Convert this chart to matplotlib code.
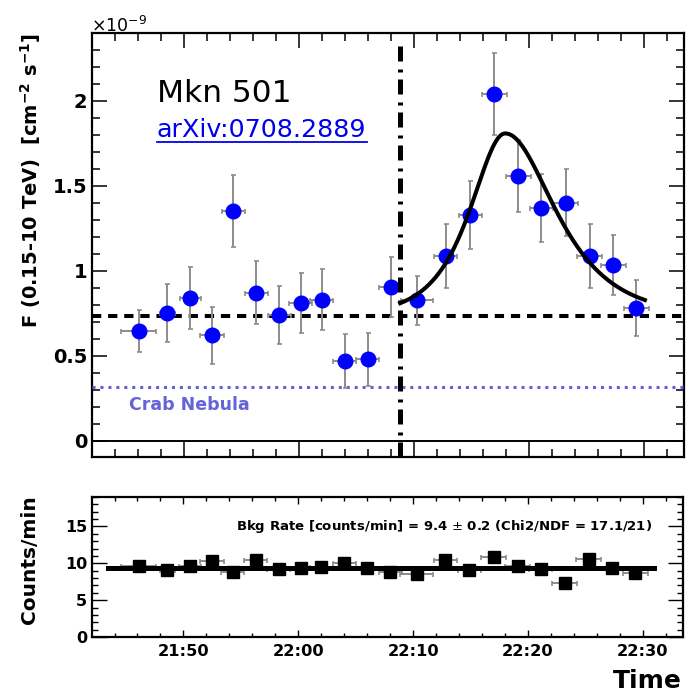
import numpy as np
import matplotlib
matplotlib.use('Agg')
import matplotlib.pyplot as plt
from matplotlib.ticker import MultipleLocator, FixedLocator, NullFormatter
from matplotlib.lines import Line2D

# time bins, minutes after 21:00
t_min = [106.1, 108.6, 110.6, 112.5, 114.3, 116.3, 118.3, 120.2, 122.0, 124.0, 126.0,
         128.0, 130.3, 132.8, 134.9, 137.0, 139.1, 141.1, 143.2, 145.3, 147.35, 149.35]
t_half = [1.5, 0.65, 0.95, 1.05, 1.0, 1.0, 1.0, 1.0, 1.0, 1.0, 1.0,
          1.0, 1.4, 1.0, 1.0, 1.1, 1.1, 1.0, 1.1, 1.1, 1.1, 1.1]

# integral flux 0.15-10 TeV, units of 1e-9 cm^-2 s^-1
flux = [0.647, 0.753, 0.84, 0.62, 1.35, 0.87, 0.74, 0.81, 0.83, 0.47, 0.48,
        0.906, 0.826, 1.086, 1.33, 2.04, 1.558, 1.367, 1.40, 1.086, 1.033, 0.78]
flux_err = [0.125, 0.17, 0.18, 0.165, 0.21, 0.185, 0.17, 0.175, 0.18, 0.16, 0.155,
            0.175, 0.145, 0.19, 0.2, 0.24, 0.21, 0.2, 0.197, 0.186, 0.177, 0.165]

# background rate, counts/min
bkg = [9.7, 9.15, 9.7, 10.38, 8.88, 10.5, 9.29, 9.43, 9.56, 10.1, 9.43,
       8.88, 8.6, 10.5, 9.15, 10.9, 9.7, 9.29, 7.38, 10.65, 9.43, 8.74]
bkg_err = [0.5] * 22

flux_mean = 0.737
crab_flux = 0.32
bkg_fit = 9.4
t_switch = 128.83

# flare fit: constant + asymmetric sech pulse
fit_base = 0.737
fit_amp = 1.07
fit_peak = 137.96
fit_rise = 2.7
fit_decay = 3.85
fit_end = 150.1

time_ticks = [110, 120, 130, 140, 150]
time_labels = ['21:50', '22:00', '22:10', '22:20', '22:30']

W = 694.0
fig = plt.figure(figsize=(6.94, 6.94), dpi=100)
ax1 = fig.add_axes([92 / W, (W - 457) / W, 592 / W, 424 / W])
ax2 = fig.add_axes([92 / W, (W - 637) / W, 591 / W, 140 / W])

blue = '#0000ff'
grey = '#8c8c8c'
crab_col = '#6464d8'

# --- flux light curve ---
ax1.axhline(0, color='black', lw=1.4, zorder=2)
ax1.axhline(flux_mean, color='black', lw=2.9, dashes=(2.3, 1.7), zorder=3)
ax1.axhline(crab_flux, color=crab_col, lw=2.2, dashes=(1.0, 1.6), zorder=3)
ax1.errorbar(t_min, flux, xerr=t_half, yerr=flux_err, fmt='o', color=blue,
             mec=blue, ms=10.5, ecolor=grey, elinewidth=1.4, capsize=1.8,
             capthick=1.2, zorder=4)

tt = np.linspace(t_switch, fit_end, 400)
tau = np.where(tt < fit_peak, fit_rise, fit_decay)
ax1.plot(tt, fit_base + fit_amp / np.cosh((tt - fit_peak) / tau),
         color='black', lw=2.9, zorder=5)

ax1.axvline(t_switch, ymin=0, ymax=0.975, color='black', lw=3.6,
            dashes=(3.0, 1.4, 0.6, 1.6), zorder=6)

ax1.set_xlim(102.04, 153.5)
ax1.set_ylim(-0.094, 2.397)
ax1.xaxis.set_major_locator(FixedLocator(time_ticks))
ax1.xaxis.set_minor_locator(MultipleLocator(2))
ax1.xaxis.set_major_formatter(NullFormatter())
ax1.yaxis.set_major_locator(FixedLocator([0, 0.5, 1, 1.5, 2]))
ax1.yaxis.set_minor_locator(MultipleLocator(0.1))
ax1.set_yticklabels(['0', '0.5', '1', '1.5', '2'])
ax1.tick_params(which='both', direction='in', top=True, right=True,
                width=1.1, labelsize=14, pad=3.5)
ax1.tick_params(which='major', length=11)
ax1.tick_params(which='minor', length=5.5)
for lab in ax1.get_yticklabels():
    lab.set_fontweight('bold')

ax1.text((157 - 92) / 592, (457 - 102) / 424, 'Mkn 501', transform=ax1.transAxes,
         fontsize=22.5, va='baseline', ha='left')
arx = ax1.text((157 - 92) / 592, (457 - 137) / 424, 'arXiv:0708.2889',
               transform=ax1.transAxes, fontsize=18.3, color='#0000ee',
               va='baseline', ha='left')
ax1.text((129 - 92) / 592, (457 - 410) / 424, 'Crab Nebula', transform=ax1.transAxes,
         fontsize=12.5, fontweight='bold', color=crab_col, va='baseline')

fig.text(91 / W, (W - 32) / W, r'$\times$10$^{-9}$', fontsize=12.5,
         va='baseline', ha='left')
fig.text(31 / W, (W - 33) / W,
         r'F (0.15-10 TeV)  [cm$^{\mathbf{-2}}$ s$^{\mathbf{-1}}$]',
         rotation=90, fontsize=14, fontweight='bold', ha='center', va='top')

# --- background rate ---
ax2.errorbar(t_min, bkg, xerr=t_half, yerr=bkg_err, fmt='s', color='black',
             ms=8, ecolor=grey, elinewidth=1.4, capsize=1.8, capthick=1.2,
             zorder=4)
ax2.plot([103.4, 151.0], [bkg_fit, bkg_fit], color='black', lw=3.6, zorder=5)
ax2.set_xlim(102.04, 153.5)
ax2.set_ylim(0, 19)
ax2.xaxis.set_major_locator(FixedLocator(time_ticks))
ax2.xaxis.set_minor_locator(MultipleLocator(2))
ax2.set_xticklabels(time_labels)
ax2.yaxis.set_major_locator(FixedLocator([0, 5, 10, 15]))
ax2.yaxis.set_minor_locator(MultipleLocator(1))
ax2.tick_params(which='both', direction='in', top=True, right=True, width=1.0)
ax2.tick_params(axis='y', which='major', length=10.5, labelsize=11.5, pad=3.5)
ax2.tick_params(axis='y', which='minor', length=4.5)
ax2.tick_params(axis='x', which='major', length=5, labelsize=11.7, pad=5)
ax2.tick_params(axis='x', which='minor', length=3)
for lab in ax2.get_xticklabels() + ax2.get_yticklabels():
    lab.set_fontweight('bold')

ax2.text((652 - 92) / 591, (637 - 530) / 140,
         'Bkg Rate [counts/min] = 9.4 $\\pm$ 0.2 (Chi2/NDF = 17.1/21)',
         transform=ax2.transAxes, fontsize=9.5, fontweight='bold',
         ha='right', va='baseline')
fig.text(30 / W, (W - 495) / W, 'Counts/min', rotation=90, fontsize=14.5,
         fontweight='bold', ha='center', va='top')
fig.text(682 / W, (W - 688) / W, 'Time', fontsize=18, fontweight='bold',
         ha='right', va='baseline')

for ax in (ax1, ax2):
    for sp in ax.spines.values():
        sp.set_linewidth(1.6)

# underline the arXiv reference
fig.canvas.draw()
bb = arx.get_window_extent()
y_ul = ax1.transAxes.transform((0, (457 - 137) / 424))[1] - 5
fig.add_artist(Line2D([bb.x0, bb.x1], [y_ul, y_ul], transform=None,
                      color='#0000ee', lw=1.3))

fig.savefig('out.png', dpi=100)
